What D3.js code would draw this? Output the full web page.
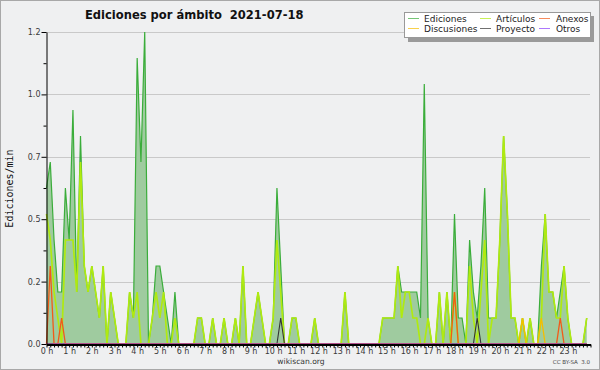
<head>
    <meta charset="utf-8" />
    <script src="https://d3js.org/d3.v7.min.js"></script>
</head>
<style>
    body { margin: 0; background: #eff0f1; }
    svg { display: block; }
</style>
<body>
</body>
<script>
// edits per minute, one value per 10 minutes (144 slots), one row = 2 hours
var ediciones = [
    0.6,0.7,0.4,0.2,0.2,0.6,0.4,0.9,0.2,0.8,0.3,0.2,
    0.3,0.2,0.1,0.3,0,0.2,0.1,0,0,0,0.2,0.1,
    1.1,0.7,1.2,0,0.1,0.3,0.3,0.2,0.1,0,0.2,0,
    0,0,0,0,0.1,0.1,0,0,0.1,0,0,0.1,
    0,0,0.1,0,0.3,0,0,0.1,0.2,0.1,0,0,
    0.1,0.6,0.3,0,0,0.1,0.1,0,0,0,0,0.1,
    0,0,0,0,0,0,0,0.2,0,0,0,0,
    0,0,0,0,0,0.1,0.1,0.1,0.1,0.3,0.2,0.2,
    0.2,0.2,0.2,0.1,1.0,0.1,0,0,0.2,0,0.2,0,
    0.5,0.1,0.1,0,0.4,0.2,0.1,0.3,0.6,0.1,0.1,0.1,
    0.4,0.8,0.5,0.1,0.1,0,0.1,0,0.1,0,0,0.3,
    0.5,0.2,0.2,0.1,0.2,0.3,0.1,0,0,0,0,0.1
];
var articulos = [
    0.5,0.4,0.2,0.1,0,0.4,0.4,0.4,0.2,0.7,0.3,0.2,
    0.3,0.2,0.1,0.3,0,0.2,0.1,0,0,0,0.2,0.1,
    0.2,0,0,0,0.1,0.2,0.1,0.2,0,0,0.1,0,
    0,0,0,0,0.1,0.1,0,0,0.1,0,0,0.1,
    0,0,0.1,0,0.3,0,0,0.1,0.2,0.1,0,0,
    0.1,0.4,0.2,0,0,0.1,0.1,0,0,0,0,0.1,
    0,0,0,0,0,0,0,0.2,0,0,0,0,
    0,0,0,0,0,0.1,0.1,0.1,0.1,0.3,0.1,0.2,
    0.2,0.1,0.1,0,0,0.1,0,0,0.2,0,0.2,0,
    0.2,0,0,0,0.3,0.1,0,0.2,0.4,0,0.1,0.1,
    0.4,0.8,0.5,0.1,0.1,0,0.1,0,0.1,0,0,0.1,
    0.5,0.2,0.2,0.1,0.1,0.3,0.1,0,0,0,0,0.1
];
var anexos = [
    0,0.3,0,0,0.1,0,0,0,0,0,0,0,
    0,0,0,0,0,0,0,0,0,0,0,0,
    0,0,0,0,0,0,0,0,0,0,0,0,
    0,0,0,0,0,0,0,0,0,0,0,0,
    0,0,0,0,0,0,0,0,0,0,0,0,
    0,0,0,0,0,0,0,0,0,0,0,0,
    0,0,0,0,0,0,0,0,0,0,0,0,
    0,0,0,0,0,0,0,0,0,0,0,0,
    0,0,0,0,0,0,0,0,0,0,0,0,
    0.2,0,0,0,0,0,0,0,0,0,0,0,
    0,0,0,0,0,0,0,0,0,0,0,0,
    0,0,0,0,0.1,0,0,0,0,0,0,0
];
var discusiones = [
    0,0,0,0,0,0,0,0,0,0,0,0,
    0,0,0,0,0,0,0,0,0,0,0,0,
    0,0,0,0,0,0,0,0,0,0,0,0,
    0,0,0,0,0,0,0,0,0,0,0,0,
    0,0,0,0,0,0,0,0,0,0,0,0,
    0,0,0,0,0,0,0,0,0,0,0,0,
    0,0,0,0,0,0,0,0,0,0,0,0,
    0,0,0,0,0,0,0,0,0,0,0,0,
    0,0,0,0,0,0,0,0,0,0,0,0,
    0,0,0,0,0,0,0,0,0,0,0,0,
    0,0,0,0,0,0,0.1,0,0,0,0,0.1,
    0,0,0,0,0,0,0,0,0,0,0,0
];
var proyecto = [
    0,0,0,0,0,0,0,0,0,0,0,0,
    0,0,0,0,0,0,0,0,0,0,0,0,
    0,0,0,0,0,0,0,0,0,0,0,0,
    0,0,0,0,0,0,0,0,0,0,0,0,
    0,0,0,0,0,0,0,0,0,0,0,0,
    0,0,0.1,0,0,0,0,0,0,0,0,0,
    0,0,0,0,0,0,0,0,0,0,0,0,
    0,0,0,0,0,0,0,0,0,0,0,0,
    0,0,0,0,0,0,0,0,0,0,0,0,
    0,0,0,0,0,0,0.1,0,0,0,0,0,
    0,0,0,0,0,0,0,0,0,0,0,0,
    0,0,0,0,0,0,0,0,0,0,0,0
];
var otros = [
    0,0,0,0,0,0,0,0,0,0,0,0,
    0,0,0,0,0,0,0,0,0,0,0,0,
    0,0,0,0,0,0,0,0,0,0,0,0,
    0,0,0,0,0,0,0,0,0,0,0,0,
    0,0,0,0,0,0,0,0,0,0,0,0,
    0,0,0,0,0,0,0,0,0,0,0,0,
    0,0,0,0,0,0,0,0,0,0,0,0,
    0,0,0,0,0,0,0,0,0,0,0,0,
    0,0,0,0,0,0,0,0,0,0,0,0,
    0,0,0,0,0,0,0,0,0,0,0,0,
    0,0,0,0,0,0,0,0,0,0,0,0,
    0,0,0,0,0,0,0,0,0,0,0,0
];

var hourLabels = ["0 h","1 h","2 h","3 h","4 h","5 h","6 h","7 h","8 h","9 h","10 h","11 h",
                  "12 h","13 h","14 h","15 h","16 h","17 h","18 h","19 h","20 h","21 h","22 h","23 h"];
var yTicks = [0, 0.24, 0.48, 0.72, 0.96, 1.2];
var yTickLabels = ["0.0","0.2","0.5","0.7","1.0","1.2"];

var series = [
    {name: "Ediciones",   values: ediciones,   color: "#3aad3a", width: 1.2},
    {name: "Artículos",   values: articulos,   color: "#b0ea10", width: 1.7},
    {name: "Discusiones", values: discusiones, color: "#f5bd00", width: 1.3},
    {name: "Proyecto",    values: proyecto,    color: "#333333", width: 1.1},
    {name: "Anexos",      values: anexos,      color: "#f25a18", width: 1.3},
    {name: "Otros",       values: otros,       color: "#8a3ffc", width: 1.1}
];
// legend layout: [series name, column, row]
var legendItems = [
    ["Ediciones", 0, 0], ["Artículos", 1, 0], ["Anexos", 2, 0],
    ["Discusiones", 0, 1], ["Proyecto", 1, 1], ["Otros", 2, 1]
];

var svg = d3.select("body").append("svg")
    .attr("width", 600)
    .attr("height", 370);

svg.append("rect")
    .attr("x", 0.5).attr("y", 0.5)
    .attr("width", 599).attr("height", 369)
    .attr("fill", "#eff0f1")
    .attr("stroke", "#a8a8a8");

var x = d3.scaleLinear().domain([0, 144]).range([46.5, 590.5]);
var y = d3.scaleLinear().domain([0, 1.2]).range([344, 32]);

// grid
svg.append("g").selectAll("line")
    .data(yTicks.slice(1))
    .enter().append("line")
    .attr("x1", 46).attr("x2", 590)
    .attr("y1", function (d) { return Math.round(y(d)) + 0.5; })
    .attr("y2", function (d) { return Math.round(y(d)) + 0.5; })
    .attr("stroke", "#c9c9c9");

var idx = d3.range(144);

var area = d3.area()
    .x(function (i) { return x(i); })
    .y0(y(0))
    .y1(function (i) { return y(ediciones[i]); });

svg.append("path")
    .datum(idx)
    .attr("d", area)
    .attr("fill", "#9fcb9f");

var line = function (vals) {
    return d3.line()
        .x(function (i) { return x(i); })
        .y(function (i) { return y(vals[i]); });
};

svg.append("g").selectAll("path")
    .data(series)
    .enter().append("path")
    .attr("d", function (s) { return line(s.values)(idx); })
    .attr("fill", "none")
    .attr("stroke", function (s) { return s.color; })
    .attr("stroke-width", function (s) { return s.width; })
    .attr("stroke-linejoin", "miter");

// axes
svg.append("g")
    .attr("transform", "translate(46.5,0)")
    .call(d3.axisLeft(y).tickValues(yTicks)
        .tickFormat(function (d, i) { return yTickLabels[i]; })
        .tickSize(5).tickSizeOuter(0).tickPadding(1));

svg.append("g")
    .attr("transform", "translate(46.5,0)")
    .call(d3.axisLeft(y)
        .tickValues([0.12, 0.36, 0.6, 0.84, 1.08])
        .tickFormat("").tickSize(3).tickSizeOuter(0))
    .select(".domain").remove();

var xAxis = svg.append("g")
    .attr("transform", "translate(0,344.5)")
    .call(d3.axisBottom(x).tickValues(d3.range(0, 145))
        .tickFormat(function (d) { return (d % 6 === 0 && d < 144) ? hourLabels[d / 6] : ""; })
        .tickSize(3).tickSizeOuter(0).tickPadding(0.5));
xAxis.select(".domain").attr("stroke-width", 2);

svg.selectAll(".tick text")
    .attr("font-family", "DejaVu Sans")
    .attr("font-size", 8)
    .attr("fill", "#3a3a3a");

// titles
svg.append("text")
    .attr("x", 85).attr("y", 18.5)
    .attr("font-family", "DejaVu Sans")
    .attr("font-stretch", "condensed")
    .attr("font-weight", "bold")
    .attr("font-size", 12.8)
    .attr("fill", "#111")
    .text("Ediciones por ámbito\u00a0\u00a02021-07-18");

svg.append("text")
    .attr("transform", "translate(13,188.5) rotate(-90)")
    .attr("text-anchor", "middle")
    .attr("font-family", "DejaVu Sans Mono")
    .attr("font-size", 10)
    .attr("fill", "#111")
    .text("Ediciones/min");

svg.append("text")
    .attr("x", 301).attr("y", 364)
    .attr("text-anchor", "middle")
    .attr("font-family", "DejaVu Sans")
    .attr("font-size", 7.6)
    .attr("fill", "#333")
    .text("wikiscan.org");

svg.append("text")
    .attr("x", 590).attr("y", 364)
    .attr("text-anchor", "end")
    .attr("font-family", "DejaVu Sans")
    .attr("font-size", 5.5)
    .attr("fill", "#444")
    .text("CC BY-SA\u00a0\u00a03.0");

// legend
var legend = svg.append("g");
legend.append("rect")
    .attr("x", 408).attr("y", 16)
    .attr("width", 186).attr("height", 26)
    .attr("fill", "#9a9a9a");
legend.append("rect")
    .attr("x", 404.5).attr("y", 12.5)
    .attr("width", 186).attr("height", 25)
    .attr("fill", "#fff")
    .attr("stroke", "#999");

var colX = [408, 480, 539];
var textX = [424, 496, 556];
var byName = {};
series.forEach(function (s) { byName[s.name] = s; });

legendItems.forEach(function (it) {
    var s = byName[it[0]];
    var ly = 18.5 + it[2] * 10;
    legend.append("line")
        .attr("x1", colX[it[1]]).attr("x2", colX[it[1]] + 11)
        .attr("y1", ly).attr("y2", ly)
        .attr("stroke", s.color)
        .attr("stroke-opacity", 0.7);
    legend.append("text")
        .attr("x", textX[it[1]]).attr("y", ly + 3.7)
        .attr("font-family", "DejaVu Sans")
        .attr("font-size", 9)
        .attr("fill", "#222")
        .text(s.name);
});
</script>
